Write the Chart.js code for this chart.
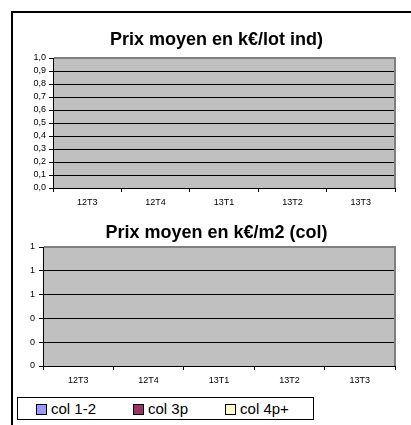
<!DOCTYPE html>
<html>
<head>
<meta charset="utf-8">
<script src="https://cdn.jsdelivr.net/npm/chart.js@4/dist/chart.umd.min.js"></script>
<style>
  html, body { margin: 0; padding: 0; background: #fff; }
  body { width: 411px; height: 425px; position: relative; overflow: hidden; }
  #frame { position: absolute; left: 11px; top: 11px; width: 600px; height: 600px;
           border-left: 2px solid #000; border-top: 2px solid #000; }
  canvas { position: absolute; left: 0; }
  #lotChart { top: 0; }
  #colChart { top: 215px; }
  #legend { position: absolute; left: 17px; top: 397px; width: 297px; height: 23px;
            border: 1px solid #000; background: #fff; display: flex; align-items: center;
            padding-left: 18px; box-sizing: border-box;
            font-family: "Liberation Sans", Arial, sans-serif; font-size: 15px; color: #000; }
  #legend .item { display: flex; align-items: center; margin-right: 37px; white-space: nowrap; }
  #legend .box { width: 9px; height: 9px; border: 1px solid #000; margin-right: 4px; margin-top: 2px; }
</style>
</head>
<body>
<div id="frame"></div>
<canvas id="lotChart" width="411" height="215"></canvas>
<canvas id="colChart" width="411" height="180"></canvas>
<div id="legend"></div>
<script>
// Quarters on the x axis
const categories = ['12T3', '12T4', '13T1', '13T2', '13T3'];

// Average price per individual lot (k€) — no figures for these quarters
const lotInd = [null, null, null, null, null];

// Average price per m² for collective housing (k€/m²), by size band
const seriesNames = ['col 1-2', 'col 3p', 'col 4p+'];
const col12 = [null, null, null, null, null];
const col3p = [null, null, null, null, null];
const col4p = [null, null, null, null, null];

// Y axis ranges
const lotTicks = { min: 0, max: 1, step: 0.1 };
const colTicks = { min: 0, max: 1, step: 0.2 };

// Excel-style palette
const seriesColors = ['#9999FF', '#993366', '#FFFFCC'];
const FONT = '"Liberation Sans", Arial, sans-serif';

// Grey plot area with a grey frame on top and right
const plotArea = {
  id: 'plotArea',
  beforeDraw(chart) {
    const { ctx, chartArea: a } = chart;
    ctx.save();
    ctx.fillStyle = '#C0C0C0';
    ctx.fillRect(a.left, a.top, a.right - a.left, a.bottom - a.top);
    ctx.restore();
  },
  afterDraw(chart) {
    const { ctx, chartArea: a } = chart;
    ctx.save();
    ctx.strokeStyle = '#808080';
    ctx.lineWidth = 2;
    ctx.beginPath();
    ctx.moveTo(a.left + 1, a.top);
    ctx.lineTo(a.right, a.top);
    ctx.lineTo(a.right, a.bottom);
    ctx.stroke();
    ctx.restore();
  }
};

// Padding plus an empty right-hand box so the titles sit centred on the chart object
const PAD_LEFT = 28;
const PAD_RIGHT = 6;
const RIGHT_GAP = 10;

function makeOptions(cfg) {
  return {
    responsive: false,
    animation: false,
    layout: { padding: { left: PAD_LEFT, right: PAD_RIGHT, top: 0, bottom: 0 } },
    plugins: {
      legend: { display: false },
      tooltip: { enabled: false },
      title: {
        display: true,
        text: cfg.title,
        color: '#000',
        font: { family: FONT, size: 18, weight: 'bold' },
        padding: cfg.titlePadding
      }
    },
    scales: {
      x: {
        offset: true,
        afterFit(s) { s.height = cfg.xHeight; },
        grid: { offset: true, drawOnChartArea: false, drawTicks: true, tickLength: 4, color: '#000' },
        border: { color: '#000', width: 1 },
        ticks: { color: '#000', padding: 5, font: { family: FONT, size: 9 }, maxRotation: 0, autoSkip: false }
      },
      y: {
        min: cfg.range.min,
        max: cfg.range.max,
        afterFit(s) { s.width = cfg.plotLeft - PAD_LEFT; },
        grid: { color: '#000', lineWidth: 1, tickLength: 4, drawTicks: true },
        border: { color: '#000', width: 1 },
        ticks: {
          stepSize: cfg.range.step,
          autoSkip: false,
          color: '#000',
          padding: cfg.yPad,
          font: { family: FONT, size: 9 },
          callback: cfg.format
        }
      },
      gap: {
        position: 'right',
        min: 0,
        max: 1,
        afterFit(s) { s.width = RIGHT_GAP; },
        grid: { display: false },
        border: { display: false },
        ticks: { display: false }
      }
    }
  };
}

new Chart(document.getElementById('lotChart'), {
  type: 'bar',
  data: {
    labels: categories,
    datasets: [{ label: 'ind', data: lotInd, backgroundColor: seriesColors[0] }]
  },
  options: makeOptions({
    title: 'Prix moyen en k€/lot ind)',
    titlePadding: { top: 29.2, bottom: 7.2 },
    xHeight: 27,
    plotLeft: 53,
    yPad: 3,
    range: lotTicks,
    format: v => Number(v).toFixed(1).replace('.', ',')
  }),
  plugins: [plotArea]
});

const colData = [col12, col3p, col4p];
new Chart(document.getElementById('colChart'), {
  type: 'bar',
  data: {
    labels: categories,
    datasets: seriesNames.map((name, i) => ({
      label: name, data: colData[i], backgroundColor: seriesColors[i],
      borderColor: '#000', borderWidth: 1
    }))
  },
  options: makeOptions({
    title: 'Prix moyen en k€/m2 (col)',
    titlePadding: { top: 7.2, bottom: 3.2 },
    xHeight: 29,
    plotLeft: 43,
    yPad: 4,
    range: colTicks,
    format: v => Number(v).toFixed(0)
  }),
  plugins: [plotArea]
});

// Legend for the collective-housing series
const legend = document.getElementById('legend');
seriesNames.forEach((name, i) => {
  const item = document.createElement('div');
  item.className = 'item';
  const box = document.createElement('span');
  box.className = 'box';
  box.style.background = seriesColors[i];
  const label = document.createElement('span');
  label.textContent = name;
  item.appendChild(box);
  item.appendChild(label);
  legend.appendChild(item);
});
</script>
</body>
</html>
